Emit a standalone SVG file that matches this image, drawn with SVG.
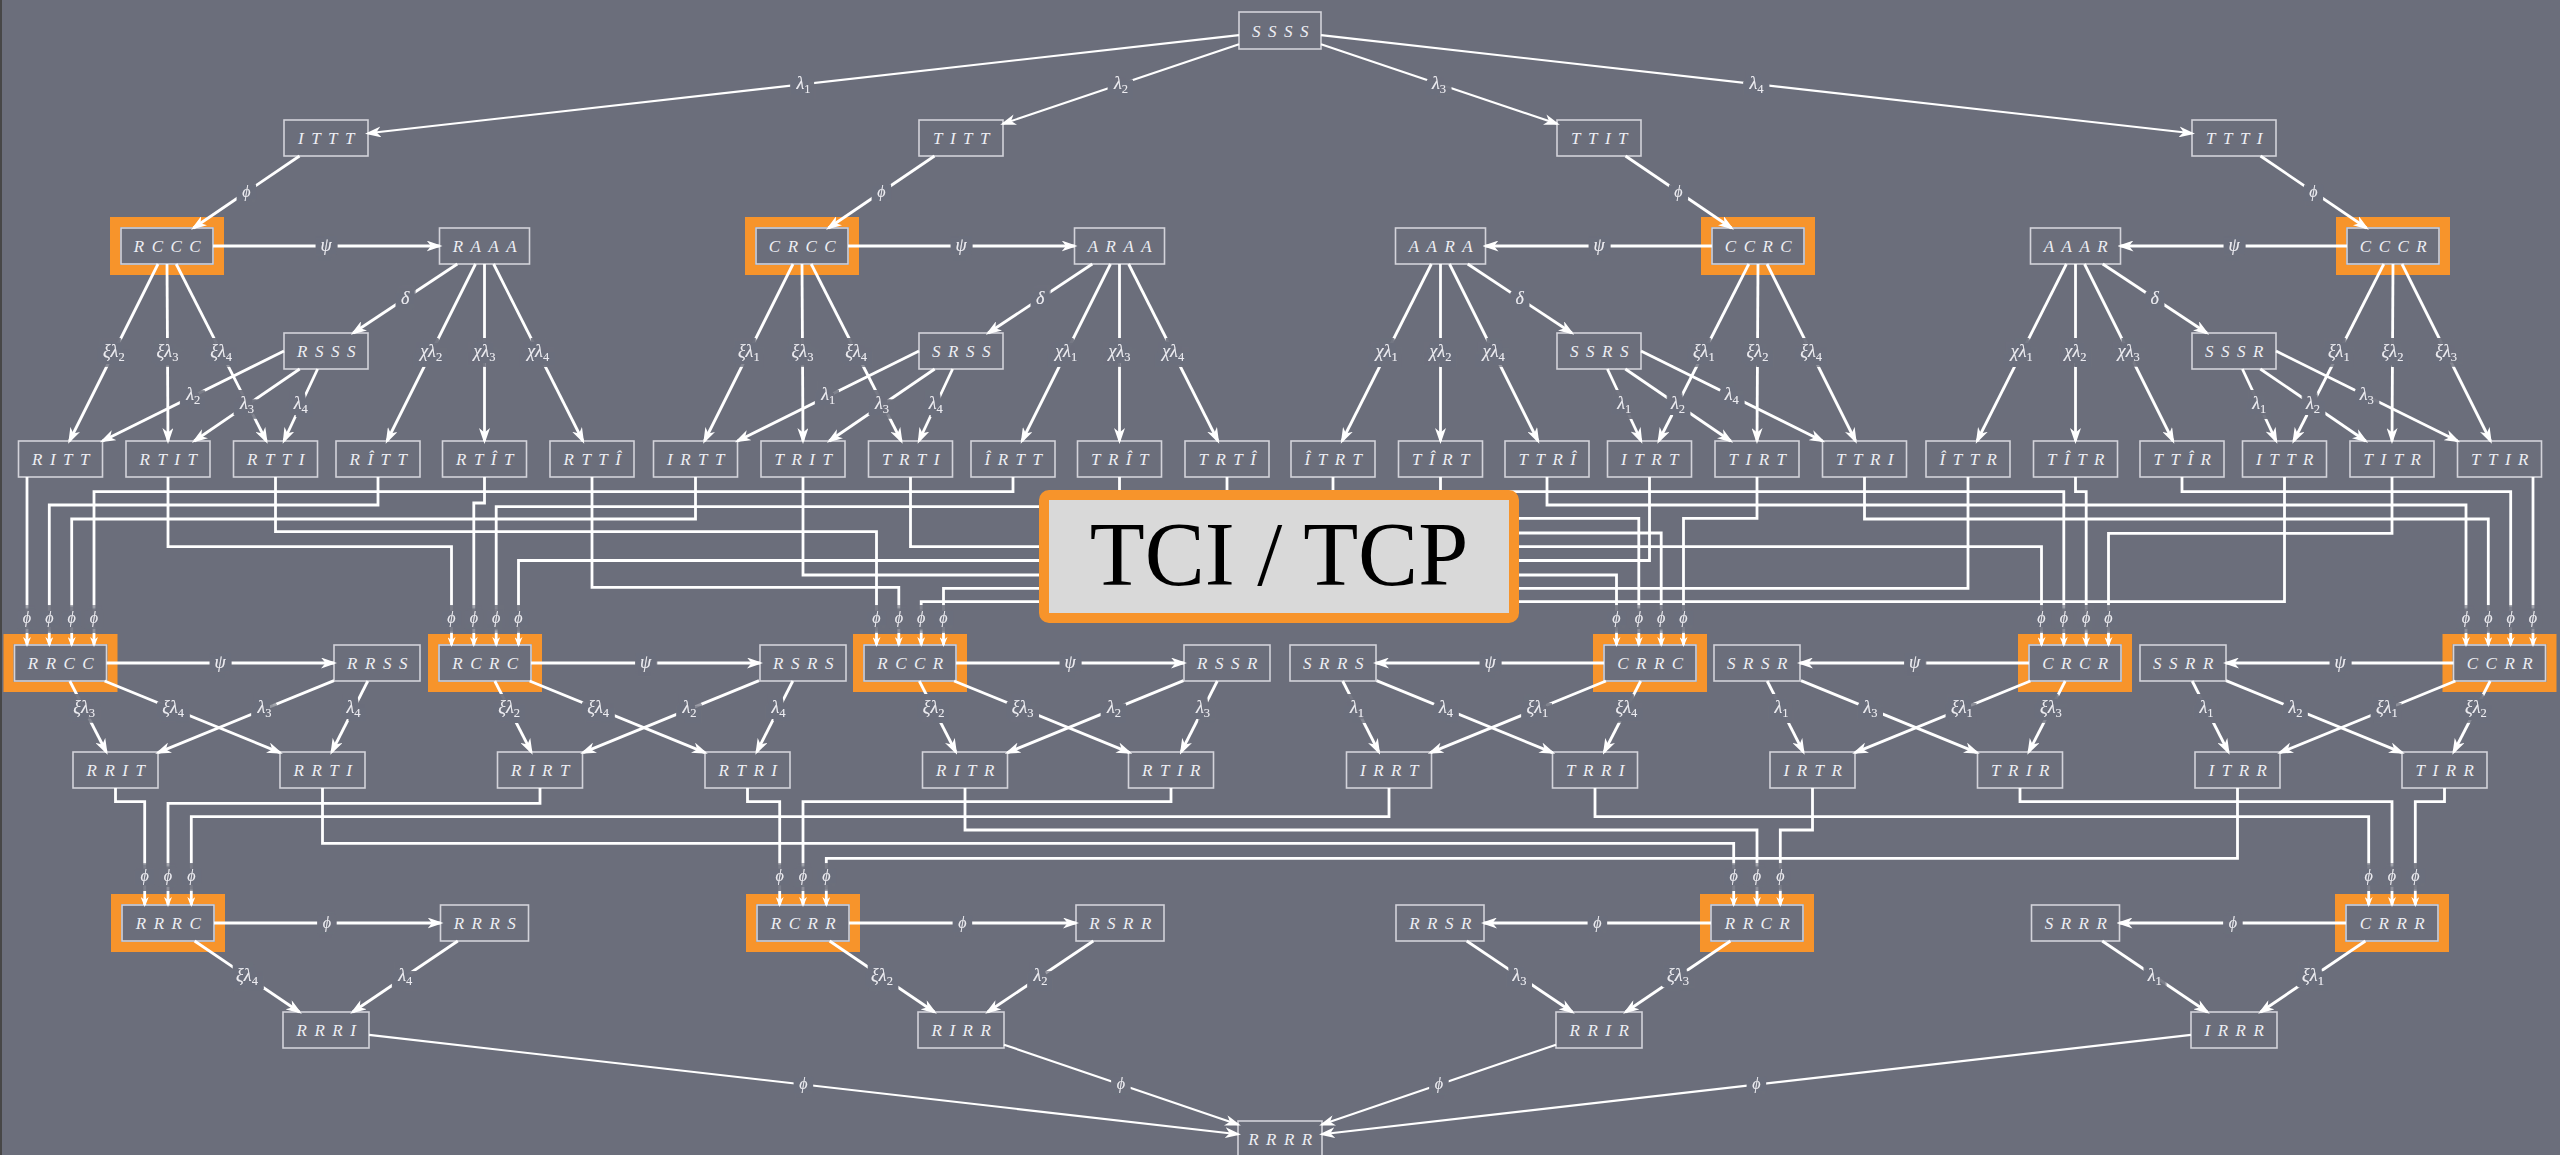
<svg xmlns="http://www.w3.org/2000/svg" width="2560" height="1155" viewBox="0 0 2560 1155">
<defs>
<style>
.n rect{fill:none;stroke:#d3d3da;stroke-width:1.6}
.n rect.hl{stroke:#f7942b;stroke-width:10}
.n text{font-family:'Liberation Serif','DejaVu Serif',serif;font-style:italic;font-size:17px;letter-spacing:7.5px;fill:#eeeef4;text-anchor:middle}
.e{fill:none;stroke:#fff;stroke-width:2.8;marker-end:url(#ah)}
.t{stroke-width:2.1}
.w{fill:none;stroke:#fff;stroke-width:2.8;marker-end:url(#as)}
.l{font-family:'Liberation Serif','DejaVu Serif',serif;font-style:italic;font-size:18px;fill:#ebebf1;text-anchor:middle;filter:url(#gap)}
.s{font-size:12.5px;font-style:normal}
.p{font-size:16px}
</style>
<!-- knocks a background-coloured patch out of the lines behind each edge label -->
<filter id="gap" x="-0.7" y="-0.7" width="2.4" height="2.4">
<feMorphology in="SourceAlpha" operator="dilate" radius="6" result="d"/>
<feFlood flood-color="#6b6e7b"/>
<feComposite in2="d" operator="in" result="h"/>
<feMerge><feMergeNode in="h"/><feMergeNode in="SourceGraphic"/></feMerge>
</filter>
<marker id="ah" viewBox="0 0 16 11" refX="13" refY="5.5" markerWidth="16" markerHeight="11" markerUnits="userSpaceOnUse" orient="auto"><path d="M0,0 L16,5.5 L0,11 L4.5,5.5 Z" fill="#fff"/></marker>
<marker id="as" viewBox="0 0 10 8" refX="8" refY="4" markerWidth="10" markerHeight="8" markerUnits="userSpaceOnUse" orient="auto"><path d="M0,0 L10,4 L0,8 L3,4 Z" fill="#fff"/></marker>
</defs>
<rect width="2560" height="1155" fill="#6b6e7b"/>
<rect width="2" height="1155" fill="#474747"/>

<!-- nodes -->
<g id="n-SSSS" class="n"><rect x="1239" y="12" width="82" height="37"/><text x="1284" y="36.5">SSSS</text></g>
<g id="n-ITTT" class="n"><rect x="284" y="120" width="84" height="36"/><text x="330" y="144">ITTT</text></g>
<g id="n-TITT" class="n"><rect x="919" y="120" width="84" height="36"/><text x="965" y="144">TITT</text></g>
<g id="n-TTIT" class="n"><rect x="1557" y="120" width="84" height="36"/><text x="1603" y="144">TTIT</text></g>
<g id="n-TTTI" class="n"><rect x="2192" y="120" width="84" height="36"/><text x="2238" y="144">TTTI</text></g>

<g id="n-RCCC" class="n"><rect class="hl" x="115" y="222" width="104" height="48"/><rect x="121" y="228" width="92" height="36"/><text x="171" y="252">RCCC</text></g>
<g id="n-RAAA" class="n"><rect x="439.5" y="228" width="90" height="36"/><text x="488.5" y="252">RAAA</text></g>
<g id="n-CRCC" class="n"><rect class="hl" x="750" y="222" width="104" height="48"/><rect x="756" y="228" width="92" height="36"/><text x="806" y="252">CRCC</text></g>
<g id="n-ARAA" class="n"><rect x="1074.5" y="228" width="90" height="36"/><text x="1123.5" y="252">ARAA</text></g>
<g id="n-AARA" class="n"><rect x="1395.5" y="228" width="90" height="36"/><text x="1444.5" y="252">AARA</text></g>
<g id="n-CCRC" class="n"><rect class="hl" x="1706" y="222" width="104" height="48"/><rect x="1712" y="228" width="92" height="36"/><text x="1762" y="252">CCRC</text></g>
<g id="n-AAAR" class="n"><rect x="2030.5" y="228" width="90" height="36"/><text x="2079.5" y="252">AAAR</text></g>
<g id="n-CCCR" class="n"><rect class="hl" x="2341" y="222" width="104" height="48"/><rect x="2347" y="228" width="92" height="36"/><text x="2397" y="252">CCCR</text></g>

<g id="n-RSSS" class="n"><rect x="284" y="333" width="84" height="36"/><text x="330" y="357">RSSS</text></g>
<g id="n-SRSS" class="n"><rect x="919" y="333" width="84" height="36"/><text x="965" y="357">SRSS</text></g>
<g id="n-SSRS" class="n"><rect x="1557" y="333" width="84" height="36"/><text x="1603" y="357">SSRS</text></g>
<g id="n-SSSR" class="n"><rect x="2192" y="333" width="84" height="36"/><text x="2238" y="357">SSSR</text></g>

<g id="n-RITT" class="n"><rect x="18.5" y="441" width="84" height="36"/><text x="64.5" y="465">RITT</text></g>
<g id="n-RTIT" class="n"><rect x="126" y="441" width="84" height="36"/><text x="172" y="465">RTIT</text></g>
<g id="n-RTTI" class="n"><rect x="233.5" y="441" width="84" height="36"/><text x="279.5" y="465">RTTI</text></g>
<g id="n-RhTT" class="n"><rect x="336" y="441" width="84" height="36"/><text x="382" y="465">RÎTT</text></g>
<g id="n-RThT" class="n"><rect x="442.5" y="441" width="84" height="36"/><text x="488.5" y="465">RTÎT</text></g>
<g id="n-RTTh" class="n"><rect x="550" y="441" width="84" height="36"/><text x="596" y="465">RTTÎ</text></g>
<g id="n-IRTT" class="n"><rect x="653.5" y="441" width="84" height="36"/><text x="699.5" y="465">IRTT</text></g>
<g id="n-TRIT" class="n"><rect x="761" y="441" width="84" height="36"/><text x="807" y="465">TRIT</text></g>
<g id="n-TRTI" class="n"><rect x="868.5" y="441" width="84" height="36"/><text x="914.5" y="465">TRTI</text></g>
<g id="n-hRTT" class="n"><rect x="971" y="441" width="84" height="36"/><text x="1017" y="465">ÎRTT</text></g>
<g id="n-TRhT" class="n"><rect x="1077.5" y="441" width="84" height="36"/><text x="1123.5" y="465">TRÎT</text></g>
<g id="n-TRTh" class="n"><rect x="1185" y="441" width="84" height="36"/><text x="1231" y="465">TRTÎ</text></g>
<g id="n-hTRT" class="n"><rect x="1291" y="441" width="84" height="36"/><text x="1337" y="465">ÎTRT</text></g>
<g id="n-ThRT" class="n"><rect x="1398.5" y="441" width="84" height="36"/><text x="1444.5" y="465">TÎRT</text></g>
<g id="n-TTRh" class="n"><rect x="1505" y="441" width="84" height="36"/><text x="1551" y="465">TTRÎ</text></g>
<g id="n-ITRT" class="n"><rect x="1607.5" y="441" width="84" height="36"/><text x="1653.5" y="465">ITRT</text></g>
<g id="n-TIRT" class="n"><rect x="1715" y="441" width="84" height="36"/><text x="1761" y="465">TIRT</text></g>
<g id="n-TTRI" class="n"><rect x="1822.5" y="441" width="84" height="36"/><text x="1868.5" y="465">TTRI</text></g>
<g id="n-hTTR" class="n"><rect x="1926" y="441" width="84" height="36"/><text x="1972" y="465">ÎTTR</text></g>
<g id="n-ThTR" class="n"><rect x="2033.5" y="441" width="84" height="36"/><text x="2079.5" y="465">TÎTR</text></g>
<g id="n-TThR" class="n"><rect x="2140" y="441" width="84" height="36"/><text x="2186" y="465">TTÎR</text></g>
<g id="n-ITTR" class="n"><rect x="2242.5" y="441" width="84" height="36"/><text x="2288.5" y="465">ITTR</text></g>
<g id="n-TITR" class="n"><rect x="2350" y="441" width="84" height="36"/><text x="2396" y="465">TITR</text></g>
<g id="n-TTIR" class="n"><rect x="2457.5" y="441" width="84" height="36"/><text x="2503.5" y="465">TTIR</text></g>

<g id="n-RRCC" class="n"><rect class="hl" x="8.5" y="639" width="104" height="48"/><rect x="14.5" y="645" width="92" height="36"/><text x="64.5" y="669">RRCC</text></g>
<g id="n-RRSS" class="n"><rect x="334" y="645" width="86" height="36"/><text x="381" y="669">RRSS</text></g>
<g id="n-RCRC" class="n"><rect class="hl" x="433" y="639" width="104" height="48"/><rect x="439" y="645" width="92" height="36"/><text x="489" y="669">RCRC</text></g>
<g id="n-RSRS" class="n"><rect x="760" y="645" width="86" height="36"/><text x="807" y="669">RSRS</text></g>
<g id="n-RCCR" class="n"><rect class="hl" x="858" y="639" width="104" height="48"/><rect x="864" y="645" width="92" height="36"/><text x="914" y="669">RCCR</text></g>
<g id="n-RSSR" class="n"><rect x="1184" y="645" width="86" height="36"/><text x="1231" y="669">RSSR</text></g>
<g id="n-SRRS" class="n"><rect x="1290" y="645" width="86" height="36"/><text x="1337" y="669">SRRS</text></g>
<g id="n-CRRC" class="n"><rect class="hl" x="1598" y="639" width="104" height="48"/><rect x="1604" y="645" width="92" height="36"/><text x="1654" y="669">CRRC</text></g>
<g id="n-SRSR" class="n"><rect x="1714" y="645" width="86" height="36"/><text x="1761" y="669">SRSR</text></g>
<g id="n-CRCR" class="n"><rect class="hl" x="2023" y="639" width="104" height="48"/><rect x="2029" y="645" width="92" height="36"/><text x="2079" y="669">CRCR</text></g>
<g id="n-SSRR" class="n"><rect x="2140" y="645" width="86" height="36"/><text x="2187" y="669">SSRR</text></g>
<g id="n-CCRR" class="n"><rect class="hl" x="2447.5" y="639" width="104" height="48"/><rect x="2453.5" y="645" width="92" height="36"/><text x="2503.5" y="669">CCRR</text></g>

<g id="n-RRIT" class="n"><rect x="73" y="752" width="85" height="36"/><text x="119.5" y="776">RRIT</text></g>
<g id="n-RRTI" class="n"><rect x="280" y="752" width="85" height="36"/><text x="326.5" y="776">RRTI</text></g>
<g id="n-RIRT" class="n"><rect x="497.5" y="752" width="85" height="36"/><text x="544" y="776">RIRT</text></g>
<g id="n-RTRI" class="n"><rect x="705" y="752" width="85" height="36"/><text x="751.5" y="776">RTRI</text></g>
<g id="n-RITR" class="n"><rect x="922.5" y="752" width="85" height="36"/><text x="969" y="776">RITR</text></g>
<g id="n-RTIR" class="n"><rect x="1128.5" y="752" width="85" height="36"/><text x="1175" y="776">RTIR</text></g>
<g id="n-IRRT" class="n"><rect x="1346.5" y="752" width="85" height="36"/><text x="1393" y="776">IRRT</text></g>
<g id="n-TRRI" class="n"><rect x="1552.5" y="752" width="85" height="36"/><text x="1599" y="776">TRRI</text></g>
<g id="n-IRTR" class="n"><rect x="1770" y="752" width="85" height="36"/><text x="1816.5" y="776">IRTR</text></g>
<g id="n-TRIR" class="n"><rect x="1977.5" y="752" width="85" height="36"/><text x="2024" y="776">TRIR</text></g>
<g id="n-ITRR" class="n"><rect x="2195" y="752" width="85" height="36"/><text x="2241.5" y="776">ITRR</text></g>
<g id="n-TIRR" class="n"><rect x="2402" y="752" width="85" height="36"/><text x="2448.5" y="776">TIRR</text></g>

<g id="n-RRRC" class="n"><rect class="hl" x="116" y="899" width="104" height="48"/><rect x="122" y="905" width="92" height="36"/><text x="172" y="929">RRRC</text></g>
<g id="n-RRRS" class="n"><rect x="440.5" y="905" width="88" height="36"/><text x="488.5" y="929">RRRS</text></g>
<g id="n-RCRR" class="n"><rect class="hl" x="751" y="899" width="104" height="48"/><rect x="757" y="905" width="92" height="36"/><text x="807" y="929">RCRR</text></g>
<g id="n-RSRR" class="n"><rect x="1076" y="905" width="88" height="36"/><text x="1124" y="929">RSRR</text></g>
<g id="n-RRSR" class="n"><rect x="1396" y="905" width="88" height="36"/><text x="1444" y="929">RRSR</text></g>
<g id="n-RRCR" class="n"><rect class="hl" x="1705" y="899" width="104" height="48"/><rect x="1711" y="905" width="92" height="36"/><text x="1761" y="929">RRCR</text></g>
<g id="n-SRRR" class="n"><rect x="2031.5" y="905" width="88" height="36"/><text x="2079.5" y="929">SRRR</text></g>
<g id="n-CRRR" class="n"><rect class="hl" x="2340" y="899" width="104" height="48"/><rect x="2346" y="905" width="92" height="36"/><text x="2396" y="929">CRRR</text></g>

<g id="n-RRRI" class="n"><rect x="283" y="1012" width="86" height="36"/><text x="330" y="1036">RRRI</text></g>
<g id="n-RIRR" class="n"><rect x="918" y="1012" width="86" height="36"/><text x="965" y="1036">RIRR</text></g>
<g id="n-RRIR" class="n"><rect x="1556" y="1012" width="86" height="36"/><text x="1603" y="1036">RRIR</text></g>
<g id="n-IRRR" class="n"><rect x="2191" y="1012" width="86" height="36"/><text x="2238" y="1036">IRRR</text></g>
<g id="n-RRRR" class="n"><rect x="1238" y="1121" width="84" height="36"/><text x="1284" y="1145">RRRR</text></g>

<!-- connectors -->
<g id="edges">
<path class="e t" d="M1239,35.1L368,133.3"/>
<path class="e t" d="M1239,44.3L1003,123.8"/>
<path class="e t" d="M1321,44.3L1557,123.8"/>
<path class="e t" d="M1321,35.1L2192,133.3"/>
<path class="e" d="M299.5,156L193.5,228"/>
<path class="e" d="M934.5,156L828.5,228"/>
<path class="e" d="M1625.5,156L1731.5,228"/>
<path class="e" d="M2260.5,156L2366.5,228"/>
<path class="e" d="M213,246H439.5"/>
<path class="e" d="M848,246H1074.5"/>
<path class="e" d="M1712,246H1485.5"/>
<path class="e" d="M2347,246H2120.5"/>
<path class="e" d="M457.3,264L353.2,333"/>
<path class="e" d="M1092.3,264L988.2,333"/>
<path class="e" d="M1467.7,264L1571.8,333"/>
<path class="e" d="M2102.7,264L2206.8,333"/>
<!-- fans into row 4 -->
<path class="e" d="M158,264L69.5,441"/>
<path class="e" d="M167,264L168,441"/>
<path class="e" d="M176.2,264L266.3,441"/>
<path class="e" d="M475.5,264L387,441"/>
<path class="e" d="M484.5,264L484.5,441"/>
<path class="e" d="M493.6,264L582.9,441"/>
<path class="e" d="M284,351L102.5,441"/>
<path class="e" d="M299.7,369L194.3,441"/>
<path class="e" d="M317.6,369L283.9,441"/>
<path class="e" d="M793,264L704.5,441"/>
<path class="e" d="M802,264L803,441"/>
<path class="e" d="M811.2,264L901.3,441"/>
<path class="e" d="M1110.5,264L1022,441"/>
<path class="e" d="M1119.5,264L1119.5,441"/>
<path class="e" d="M1128.6,264L1217.9,441"/>
<path class="e" d="M919,351L737.5,441"/>
<path class="e" d="M934.7,369L829.3,441"/>
<path class="e" d="M952.6,369L918.9,441"/>
<path class="e" d="M1767,264L1855.5,441"/>
<path class="e" d="M1758,264L1757,441"/>
<path class="e" d="M1748.8,264L1658.7,441"/>
<path class="e" d="M1449.5,264L1538,441"/>
<path class="e" d="M1440.5,264L1440.5,441"/>
<path class="e" d="M1431.4,264L1342.1,441"/>
<path class="e" d="M1641,351L1822.5,441"/>
<path class="e" d="M1625.3,369L1730.7,441"/>
<path class="e" d="M1607.4,369L1641.1,441"/>
<path class="e" d="M2402,264L2490.5,441"/>
<path class="e" d="M2393,264L2392,441"/>
<path class="e" d="M2383.8,264L2293.7,441"/>
<path class="e" d="M2084.5,264L2173,441"/>
<path class="e" d="M2075.5,264L2075.5,441"/>
<path class="e" d="M2066.4,264L1977.1,441"/>
<path class="e" d="M2276,351L2457.5,441"/>
<path class="e" d="M2260.3,369L2365.7,441"/>
<path class="e" d="M2242.4,369L2276.1,441"/>
<!-- phi wiring row 4 -> row 5 -->
<path class="w" d="M27,477V645"/>
<path class="w" d="M378,477V505H49.3V645"/>
<path class="w" d="M695.5,477V519H71.7V645"/>
<path class="w" d="M1013,477V491.7H94V645"/>
<path class="w" d="M168,477V546.7H451.5V645"/>
<path class="w" d="M484.5,477V503H473.8V645"/>
<path class="w" d="M1333,477V506.7H496.2V645"/>
<path class="w" d="M1649.5,477V560.5H518.5V645"/>
<path class="w" d="M275.5,477V531.7H876.5V645"/>
<path class="w" d="M592,477V587.3H898.8V645"/>
<path class="w" d="M2284.5,477V601.7H921.2V645"/>
<path class="w" d="M1968,477V588.3H943.5V645"/>
<path class="w" d="M803,477V575H1616.5V645"/>
<path class="w" d="M1119.5,477V518.3H1638.8V645"/>
<path class="w" d="M1440.5,477V533H1661.2V645"/>
<path class="w" d="M1757,477V518.3H1683.5V645"/>
<path class="w" d="M910.5,477V546.7H2041.5V645"/>
<path class="w" d="M1227,477V491.7H2063.8V645"/>
<path class="w" d="M2075.5,477V491.7H2086.2V645"/>
<path class="w" d="M2392,477V533.3H2108.5V645"/>
<path class="w" d="M1547,477V505H2466V645"/>
<path class="w" d="M1864.5,477V519H2488.3V645"/>
<path class="w" d="M2182,477V491.7H2510.7V645"/>
<path class="w" d="M2533,477V645"/>
<!-- row 5 -->
<path class="e" d="M106.5,663H334"/>
<path class="e" d="M531,663H760"/>
<path class="e" d="M956,663H1184"/>
<path class="e" d="M1604,663H1376"/>
<path class="e" d="M2029,663H1800"/>
<path class="e" d="M2453.5,663H2226"/>
<path class="e" d="M69.8,681L106.3,752"/>
<path class="e" d="M104.6,681L280,752.6"/>
<path class="e" d="M334,680.6L158,752.6"/>
<path class="e" d="M367.8,681L331.7,752"/>
<path class="e" d="M494.8,681L531.3,752"/>
<path class="e" d="M529.6,681L705,752.6"/>
<path class="e" d="M759,680.6L583,752.6"/>
<path class="e" d="M792.8,681L756.7,752"/>
<path class="e" d="M919.3,681L955.8,752"/>
<path class="e" d="M954.1,681L1129.5,752.6"/>
<path class="e" d="M1183.5,680.6L1007.5,752.6"/>
<path class="e" d="M1217.3,681L1181.2,752"/>
<path class="e" d="M1640.7,681L1604.2,752"/>
<path class="e" d="M1605.9,681L1430.5,752.6"/>
<path class="e" d="M1376.5,680.6L1552.5,752.6"/>
<path class="e" d="M1342.7,681L1378.8,752"/>
<path class="e" d="M2065.2,681L2028.7,752"/>
<path class="e" d="M2030.4,681L1855,752.6"/>
<path class="e" d="M1801,680.6L1977,752.6"/>
<path class="e" d="M1767.2,681L1803.3,752"/>
<path class="e" d="M2490.2,681L2453.7,752"/>
<path class="e" d="M2455.4,681L2280,752.6"/>
<path class="e" d="M2226,680.6L2402,752.6"/>
<path class="e" d="M2192.2,681L2228.3,752"/>
<!-- phi wiring row 6 -> row 7 -->
<path class="w" d="M115.5,788V801.7H144.7V905"/>
<path class="w" d="M540,788V803.3H168V905"/>
<path class="w" d="M1389,788V816.7H191.3V905"/>
<path class="w" d="M747.5,788V801.7H779.7V905"/>
<path class="w" d="M1171,788V801.7H803V905"/>
<path class="w" d="M2237.5,788V858.3H826.3V905"/>
<path class="w" d="M322.5,788V843.3H1733.7V905"/>
<path class="w" d="M965,788V830H1757V905"/>
<path class="w" d="M1812.5,788V830H1780.3V905"/>
<path class="w" d="M1595,788V816.7H2368.7V905"/>
<path class="w" d="M2020,788V801.7H2392V905"/>
<path class="w" d="M2444.5,788V801.7H2415.3V905"/>
<!-- row 7 and below -->
<path class="e" d="M214,923H440.5"/>
<path class="e" d="M849,923H1076"/>
<path class="e" d="M1711,923H1484"/>
<path class="e" d="M2346,923H2119.5"/>
<path class="e" d="M194.6,941L299.4,1012"/>
<path class="e" d="M457.8,941L352.7,1012"/>
<path class="e" d="M829.6,941L934.4,1012"/>
<path class="e" d="M1093.3,941L987.7,1012"/>
<path class="e" d="M1730.4,941L1625.6,1012"/>
<path class="e" d="M1466.7,941L1572.3,1012"/>
<path class="e" d="M2365.4,941L2260.6,1012"/>
<path class="e" d="M2102.2,941L2207.3,1012"/>
<path class="e t" d="M369,1034.9L1238,1134.2"/>
<path class="e t" d="M1004,1044.7L1238,1124.6"/>
<path class="e t" d="M1556,1044.7L1322,1124.6"/>
<path class="e t" d="M2191,1034.9L1322,1134.2"/>

<!-- edge labels -->
<text class="l" x="803.5" y="89">λ<tspan class="s" dy="4">1</tspan></text>
<text class="l" x="1121" y="89">λ<tspan class="s" dy="4">2</tspan></text>
<text class="l" x="1439" y="89">λ<tspan class="s" dy="4">3</tspan></text>
<text class="l" x="1756.5" y="89">λ<tspan class="s" dy="4">4</tspan></text>
<text class="l p" x="246.5" y="197">ϕ</text>
<text class="l p" x="881.5" y="197">ϕ</text>
<text class="l p" x="1678.5" y="197">ϕ</text>
<text class="l p" x="2313.5" y="197">ϕ</text>
<text class="l" x="326" y="251">ψ</text>
<text class="l" x="961" y="251">ψ</text>
<text class="l" x="1599" y="251">ψ</text>
<text class="l" x="2234" y="251">ψ</text>
<text class="l" x="405.3" y="304">δ</text>
<text class="l" x="1040.3" y="304">δ</text>
<text class="l" x="1519.7" y="304">δ</text>
<text class="l" x="2154.7" y="304">δ</text>

<text class="l" x="113.8" y="357">ξλ<tspan class="s" dy="4">2</tspan></text>
<text class="l" x="167.5" y="357">ξλ<tspan class="s" dy="4">3</tspan></text>
<text class="l" x="221.2" y="357">ξλ<tspan class="s" dy="4">4</tspan></text>
<text class="l" x="431.2" y="357">χλ<tspan class="s" dy="4">2</tspan></text>
<text class="l" x="484.5" y="357">χλ<tspan class="s" dy="4">3</tspan></text>
<text class="l" x="538.2" y="357">χλ<tspan class="s" dy="4">4</tspan></text>
<text class="l" x="193.2" y="400">λ<tspan class="s" dy="4">2</tspan></text>
<text class="l" x="247" y="409">λ<tspan class="s" dy="4">3</tspan></text>
<text class="l" x="300.7" y="409">λ<tspan class="s" dy="4">4</tspan></text>
<text class="l" x="748.8" y="357">ξλ<tspan class="s" dy="4">1</tspan></text>
<text class="l" x="802.5" y="357">ξλ<tspan class="s" dy="4">3</tspan></text>
<text class="l" x="856.2" y="357">ξλ<tspan class="s" dy="4">4</tspan></text>
<text class="l" x="1066.2" y="357">χλ<tspan class="s" dy="4">1</tspan></text>
<text class="l" x="1119.5" y="357">χλ<tspan class="s" dy="4">3</tspan></text>
<text class="l" x="1173.2" y="357">χλ<tspan class="s" dy="4">4</tspan></text>
<text class="l" x="828.2" y="400">λ<tspan class="s" dy="4">1</tspan></text>
<text class="l" x="882" y="409">λ<tspan class="s" dy="4">3</tspan></text>
<text class="l" x="935.7" y="409">λ<tspan class="s" dy="4">4</tspan></text>
<text class="l" x="1386.8" y="357">χλ<tspan class="s" dy="4">1</tspan></text>
<text class="l" x="1440.5" y="357">χλ<tspan class="s" dy="4">2</tspan></text>
<text class="l" x="1493.8" y="357">χλ<tspan class="s" dy="4">4</tspan></text>
<text class="l" x="1703.8" y="357">ξλ<tspan class="s" dy="4">1</tspan></text>
<text class="l" x="1757.5" y="357">ξλ<tspan class="s" dy="4">2</tspan></text>
<text class="l" x="1811.2" y="357">ξλ<tspan class="s" dy="4">4</tspan></text>
<text class="l" x="1624.3" y="409">λ<tspan class="s" dy="4">1</tspan></text>
<text class="l" x="1678" y="409">λ<tspan class="s" dy="4">2</tspan></text>
<text class="l" x="1731.8" y="400">λ<tspan class="s" dy="4">4</tspan></text>
<text class="l" x="2021.8" y="357">χλ<tspan class="s" dy="4">1</tspan></text>
<text class="l" x="2075.5" y="357">χλ<tspan class="s" dy="4">2</tspan></text>
<text class="l" x="2128.8" y="357">χλ<tspan class="s" dy="4">3</tspan></text>
<text class="l" x="2338.8" y="357">ξλ<tspan class="s" dy="4">1</tspan></text>
<text class="l" x="2392.5" y="357">ξλ<tspan class="s" dy="4">2</tspan></text>
<text class="l" x="2446.2" y="357">ξλ<tspan class="s" dy="4">3</tspan></text>
<text class="l" x="2259.3" y="409">λ<tspan class="s" dy="4">1</tspan></text>
<text class="l" x="2313" y="409">λ<tspan class="s" dy="4">2</tspan></text>
<text class="l" x="2366.8" y="400">λ<tspan class="s" dy="4">3</tspan></text>

<text class="l p" x="27" y="623">ϕ</text>
<text class="l p" x="49.3" y="623">ϕ</text>
<text class="l p" x="71.7" y="623">ϕ</text>
<text class="l p" x="94" y="623">ϕ</text>
<text class="l p" x="451.5" y="623">ϕ</text>
<text class="l p" x="473.8" y="623">ϕ</text>
<text class="l p" x="496.2" y="623">ϕ</text>
<text class="l p" x="518.5" y="623">ϕ</text>
<text class="l p" x="876.5" y="623">ϕ</text>
<text class="l p" x="898.8" y="623">ϕ</text>
<text class="l p" x="921.2" y="623">ϕ</text>
<text class="l p" x="943.5" y="623">ϕ</text>
<text class="l p" x="1616.5" y="623">ϕ</text>
<text class="l p" x="1638.8" y="623">ϕ</text>
<text class="l p" x="1661.2" y="623">ϕ</text>
<text class="l p" x="1683.5" y="623">ϕ</text>
<text class="l p" x="2041.5" y="623">ϕ</text>
<text class="l p" x="2063.8" y="623">ϕ</text>
<text class="l p" x="2086.2" y="623">ϕ</text>
<text class="l p" x="2108.5" y="623">ϕ</text>
<text class="l p" x="2466" y="623">ϕ</text>
<text class="l p" x="2488.3" y="623">ϕ</text>
<text class="l p" x="2510.7" y="623">ϕ</text>
<text class="l p" x="2533" y="623">ϕ</text>

<text class="l" x="220" y="668">ψ</text>
<text class="l" x="645.5" y="668">ψ</text>
<text class="l" x="1070" y="668">ψ</text>
<text class="l" x="1490" y="668">ψ</text>
<text class="l" x="1914.5" y="668">ψ</text>
<text class="l" x="2340" y="668">ψ</text>

<text class="l" x="84.1" y="713">ξλ<tspan class="s" dy="4">3</tspan></text>
<text class="l" x="173.1" y="713">ξλ<tspan class="s" dy="4">4</tspan></text>
<text class="l" x="264.6" y="713">λ<tspan class="s" dy="4">3</tspan></text>
<text class="l" x="353.6" y="713">λ<tspan class="s" dy="4">4</tspan></text>
<text class="l" x="509.1" y="713">ξλ<tspan class="s" dy="4">2</tspan></text>
<text class="l" x="598.1" y="713">ξλ<tspan class="s" dy="4">4</tspan></text>
<text class="l" x="689.6" y="713">λ<tspan class="s" dy="4">2</tspan></text>
<text class="l" x="778.6" y="713">λ<tspan class="s" dy="4">4</tspan></text>
<text class="l" x="933.6" y="713">ξλ<tspan class="s" dy="4">2</tspan></text>
<text class="l" x="1022.6" y="713">ξλ<tspan class="s" dy="4">3</tspan></text>
<text class="l" x="1114.1" y="713">λ<tspan class="s" dy="4">2</tspan></text>
<text class="l" x="1203.1" y="713">λ<tspan class="s" dy="4">3</tspan></text>
<text class="l" x="1356.9" y="713">λ<tspan class="s" dy="4">1</tspan></text>
<text class="l" x="1445.9" y="713">λ<tspan class="s" dy="4">4</tspan></text>
<text class="l" x="1537.4" y="713">ξλ<tspan class="s" dy="4">1</tspan></text>
<text class="l" x="1626.4" y="713">ξλ<tspan class="s" dy="4">4</tspan></text>
<text class="l" x="1781.4" y="713">λ<tspan class="s" dy="4">1</tspan></text>
<text class="l" x="1870.4" y="713">λ<tspan class="s" dy="4">3</tspan></text>
<text class="l" x="1961.9" y="713">ξλ<tspan class="s" dy="4">1</tspan></text>
<text class="l" x="2050.9" y="713">ξλ<tspan class="s" dy="4">3</tspan></text>
<text class="l" x="2206.4" y="713">λ<tspan class="s" dy="4">1</tspan></text>
<text class="l" x="2295.4" y="713">λ<tspan class="s" dy="4">2</tspan></text>
<text class="l" x="2386.9" y="713">ξλ<tspan class="s" dy="4">1</tspan></text>
<text class="l" x="2475.9" y="713">ξλ<tspan class="s" dy="4">2</tspan></text>

<text class="l p" x="144.7" y="881">ϕ</text>
<text class="l p" x="168" y="881">ϕ</text>
<text class="l p" x="191.3" y="881">ϕ</text>
<text class="l p" x="779.7" y="881">ϕ</text>
<text class="l p" x="803" y="881">ϕ</text>
<text class="l p" x="826.3" y="881">ϕ</text>
<text class="l p" x="1733.7" y="881">ϕ</text>
<text class="l p" x="1757" y="881">ϕ</text>
<text class="l p" x="1780.3" y="881">ϕ</text>
<text class="l p" x="2368.7" y="881">ϕ</text>
<text class="l p" x="2392" y="881">ϕ</text>
<text class="l p" x="2415.3" y="881">ϕ</text>

<text class="l p" x="327" y="928">ϕ</text>
<text class="l p" x="962.5" y="928">ϕ</text>
<text class="l p" x="1597.5" y="928">ϕ</text>
<text class="l p" x="2233" y="928">ϕ</text>
<text class="l" x="247" y="981">ξλ<tspan class="s" dy="4">4</tspan></text>
<text class="l" x="405.2" y="981">λ<tspan class="s" dy="4">4</tspan></text>
<text class="l" x="882" y="981">ξλ<tspan class="s" dy="4">2</tspan></text>
<text class="l" x="1040.5" y="981">λ<tspan class="s" dy="4">2</tspan></text>
<text class="l" x="1519.5" y="981">λ<tspan class="s" dy="4">3</tspan></text>
<text class="l" x="1678" y="981">ξλ<tspan class="s" dy="4">3</tspan></text>
<text class="l" x="2154.8" y="981">λ<tspan class="s" dy="4">1</tspan></text>
<text class="l" x="2313" y="981">ξλ<tspan class="s" dy="4">1</tspan></text>
<text class="l p" x="803.5" y="1089">ϕ</text>
<text class="l p" x="1121" y="1089">ϕ</text>
<text class="l p" x="1439" y="1089">ϕ</text>
<text class="l p" x="1756.5" y="1089">ϕ</text>
</g>

<!-- central highlight box, drawn over the wiring -->
<g id="n-TCI-TCP">
<rect x="1044" y="495" width="470" height="123" rx="5" fill="#d9d9d9" stroke="#f7942b" stroke-width="10"/>
<text x="1279" y="585" font-family="'Liberation Serif',serif" font-size="90" fill="#000" text-anchor="middle">TCI / TCP</text>
</g>
</svg>
